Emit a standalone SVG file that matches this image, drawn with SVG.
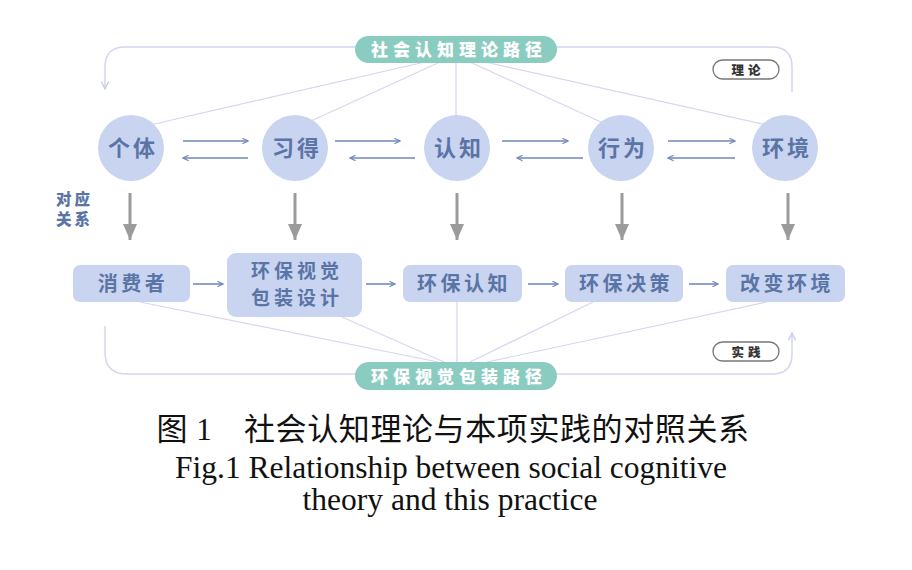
<svg xmlns="http://www.w3.org/2000/svg" width="912" height="570" viewBox="0 0 912 570">
<defs>
<style>
.cjk{font-family:"Noto Sans CJK SC","Noto Sans",sans-serif}
.circ{fill:#c9d4f1}
.ct{font-size:22px;font-weight:bold;fill:#5b74a6;text-anchor:middle;letter-spacing:3px}
.box{fill:#c9d4f1}
.bt{font-size:20px;font-weight:bold;fill:#5b74a6;text-anchor:middle;letter-spacing:3.5px}
.bt2{font-size:19px;font-weight:bold;fill:#5b74a6;text-anchor:middle;letter-spacing:4px}
.pill{fill:#8bccc1}
.pt{font-size:17px;font-weight:900;fill:#ffffff;text-anchor:middle;letter-spacing:5px}
.tag{fill:#ffffff;stroke:#777;stroke-width:1.3}
.tt{font-size:12.5px;font-weight:900;fill:#333;text-anchor:middle;letter-spacing:4px}
.fan{stroke:#d6d6f2;stroke-width:1.2;fill:none}
.loop{stroke:#d2d6f0;stroke-width:1.5;fill:none}
.ha{stroke:#7089bb;stroke-width:1.6;fill:none}
.down{stroke:#9b9b9b;stroke-width:3;fill:none}
.cap{font-family:"Liberation Serif","Noto Sans CJK SC",serif;fill:#111;text-anchor:middle}
</style>
<marker id="ah" viewBox="0 0 10 10" refX="9" refY="5" markerWidth="7" markerHeight="7" markerUnits="userSpaceOnUse" orient="auto">
<path d="M1,1 L9,5 L1,9" fill="none" stroke="#7089bb" stroke-width="1.6"/>
</marker>
<marker id="lh" viewBox="0 0 10 10" refX="9" refY="5" markerWidth="9" markerHeight="9" markerUnits="userSpaceOnUse" orient="auto">
<path d="M1,1 L9,5 L1,9" fill="none" stroke="#c4c8ec" stroke-width="1.4"/>
</marker>
<marker id="gh" viewBox="0 0 16 14" refX="16" refY="7" markerWidth="16" markerHeight="14" markerUnits="userSpaceOnUse" orient="auto">
<path d="M0,0 L16,7 L0,14 Z" fill="#9b9b9b"/>
</marker>
</defs>
<rect width="912" height="570" fill="#ffffff"/>

<g id="connectors">
<path class="loop" d="M356,47 H125 Q105,47 105,67 V89" marker-end="url(#lh)"/>
<path class="loop" d="M556,47 H772 Q792,47 792,67 V92"/>
<line class="fan" x1="425" y1="62" x2="150" y2="125"/>
<line class="fan" x1="440" y1="62" x2="311" y2="121"/>
<line class="fan" x1="456" y1="62" x2="456" y2="117"/>
<line class="fan" x1="470" y1="62" x2="603" y2="123"/>
<line class="fan" x1="485" y1="62" x2="767" y2="125"/>
<line class="ha" x1="183" y1="141" x2="248" y2="141" marker-end="url(#ah)"/>
<line class="ha" x1="248" y1="158" x2="183" y2="158" marker-end="url(#ah)"/>
<line class="ha" x1="335" y1="141" x2="400" y2="141" marker-end="url(#ah)"/>
<line class="ha" x1="415" y1="158" x2="350" y2="158" marker-end="url(#ah)"/>
<line class="ha" x1="502" y1="141" x2="568" y2="141" marker-end="url(#ah)"/>
<line class="ha" x1="583" y1="158" x2="517" y2="158" marker-end="url(#ah)"/>
<line class="ha" x1="668" y1="141" x2="735" y2="141" marker-end="url(#ah)"/>
<line class="ha" x1="735" y1="158" x2="668" y2="158" marker-end="url(#ah)"/>
<line class="down" x1="130" y1="193" x2="130" y2="240" marker-end="url(#gh)"/>
<line class="down" x1="295" y1="193" x2="295" y2="240" marker-end="url(#gh)"/>
<line class="down" x1="457" y1="193" x2="457" y2="240" marker-end="url(#gh)"/>
<line class="down" x1="622" y1="193" x2="622" y2="240" marker-end="url(#gh)"/>
<line class="down" x1="788" y1="193" x2="788" y2="240" marker-end="url(#gh)"/>
<line class="ha" x1="193" y1="284" x2="223" y2="284" marker-end="url(#ah)"/>
<line class="ha" x1="366" y1="284" x2="395" y2="284" marker-end="url(#ah)"/>
<line class="ha" x1="528" y1="284" x2="558" y2="284" marker-end="url(#ah)"/>
<line class="ha" x1="689" y1="284" x2="718" y2="284" marker-end="url(#ah)"/>
<line class="fan" x1="140" y1="302" x2="438" y2="362"/>
<line class="fan" x1="342" y1="317" x2="444" y2="362"/>
<line class="fan" x1="457" y1="302" x2="457" y2="362"/>
<line class="fan" x1="593" y1="302" x2="470" y2="362"/>
<line class="fan" x1="767" y1="302" x2="487" y2="362"/>
<path class="loop" d="M356,374 H127 Q105,374 105,352 V326"/>
<path class="loop" d="M557,374 H772 Q792,374 792,354 V333" marker-end="url(#lh)"/>
</g>

<g id="pill-theory">
<rect class="pill" x="355" y="36" width="202" height="27" rx="13.5"/>
<text class="cjk pt" x="459" y="55.5">社会认知理论路径</text>
</g>
<g id="tag-theory">
<rect class="tag" x="713" y="60" width="66" height="19" rx="9.5"/>
<text class="cjk tt" x="748" y="74.5">理论</text>
</g>

<g id="node-geti"><circle class="circ" cx="131" cy="148" r="33"/><text class="cjk ct" x="133" y="156">个体</text></g>
<g id="node-xide"><circle class="circ" cx="295" cy="148" r="33"/><text class="cjk ct" x="297" y="156">习得</text></g>
<g id="node-renzhi"><circle class="circ" cx="457" cy="148" r="33"/><text class="cjk ct" x="459" y="156">认知</text></g>
<g id="node-xingwei"><circle class="circ" cx="621" cy="148" r="33"/><text class="cjk ct" x="623" y="156">行为</text></g>
<g id="node-huanjing"><circle class="circ" cx="785" cy="148" r="33"/><text class="cjk ct" x="787" y="156">环境</text></g>

<g id="label-duiying">
<text class="cjk" x="56" y="205" style="font-size:15.5px;font-weight:900;fill:#5b74a6;letter-spacing:3px">对应</text>
<text class="cjk" x="56" y="225" style="font-size:15.5px;font-weight:900;fill:#5b74a6;letter-spacing:3px">关系</text>
</g>

<g id="box-xiaofeizhe"><rect class="box" x="73" y="265" width="117" height="37" rx="7"/><text class="cjk bt" x="133" y="291">消费者</text></g>
<g id="box-sheji"><rect class="box" x="227" y="253" width="135" height="64" rx="9"/><text class="cjk bt2" x="297" y="278">环保视觉</text><text class="cjk bt2" x="297" y="305">包装设计</text></g>
<g id="box-renzhi"><rect class="box" x="403" y="265" width="119" height="37" rx="7"/><text class="cjk bt" x="464" y="291">环保认知</text></g>
<g id="box-juece"><rect class="box" x="565" y="265" width="118" height="37" rx="7"/><text class="cjk bt" x="626" y="291">环保决策</text></g>
<g id="box-gaibian"><rect class="box" x="726" y="265" width="119" height="37" rx="7"/><text class="cjk bt" x="787" y="291">改变环境</text></g>

<g id="pill-practice">
<rect class="pill" x="355" y="362" width="202" height="28" rx="14"/>
<text class="cjk pt" x="459" y="382.5">环保视觉包装路径</text>
</g>
<g id="tag-practice">
<rect class="tag" x="713" y="342" width="66" height="19" rx="9.5"/>
<text class="cjk tt" x="748" y="356.5">实践</text>
</g>

<g id="caption">
<text class="cap" x="453" y="440" style="font-size:31px;letter-spacing:0.6px">图 1　社会认知理论与本项实践的对照关系</text>
<text class="cap" x="451" y="478" style="font-size:31.5px">Fig.1 Relationship between social cognitive</text>
<text class="cap" x="450" y="510" style="font-size:31.5px">theory and this practice</text>
</g>
</svg>
